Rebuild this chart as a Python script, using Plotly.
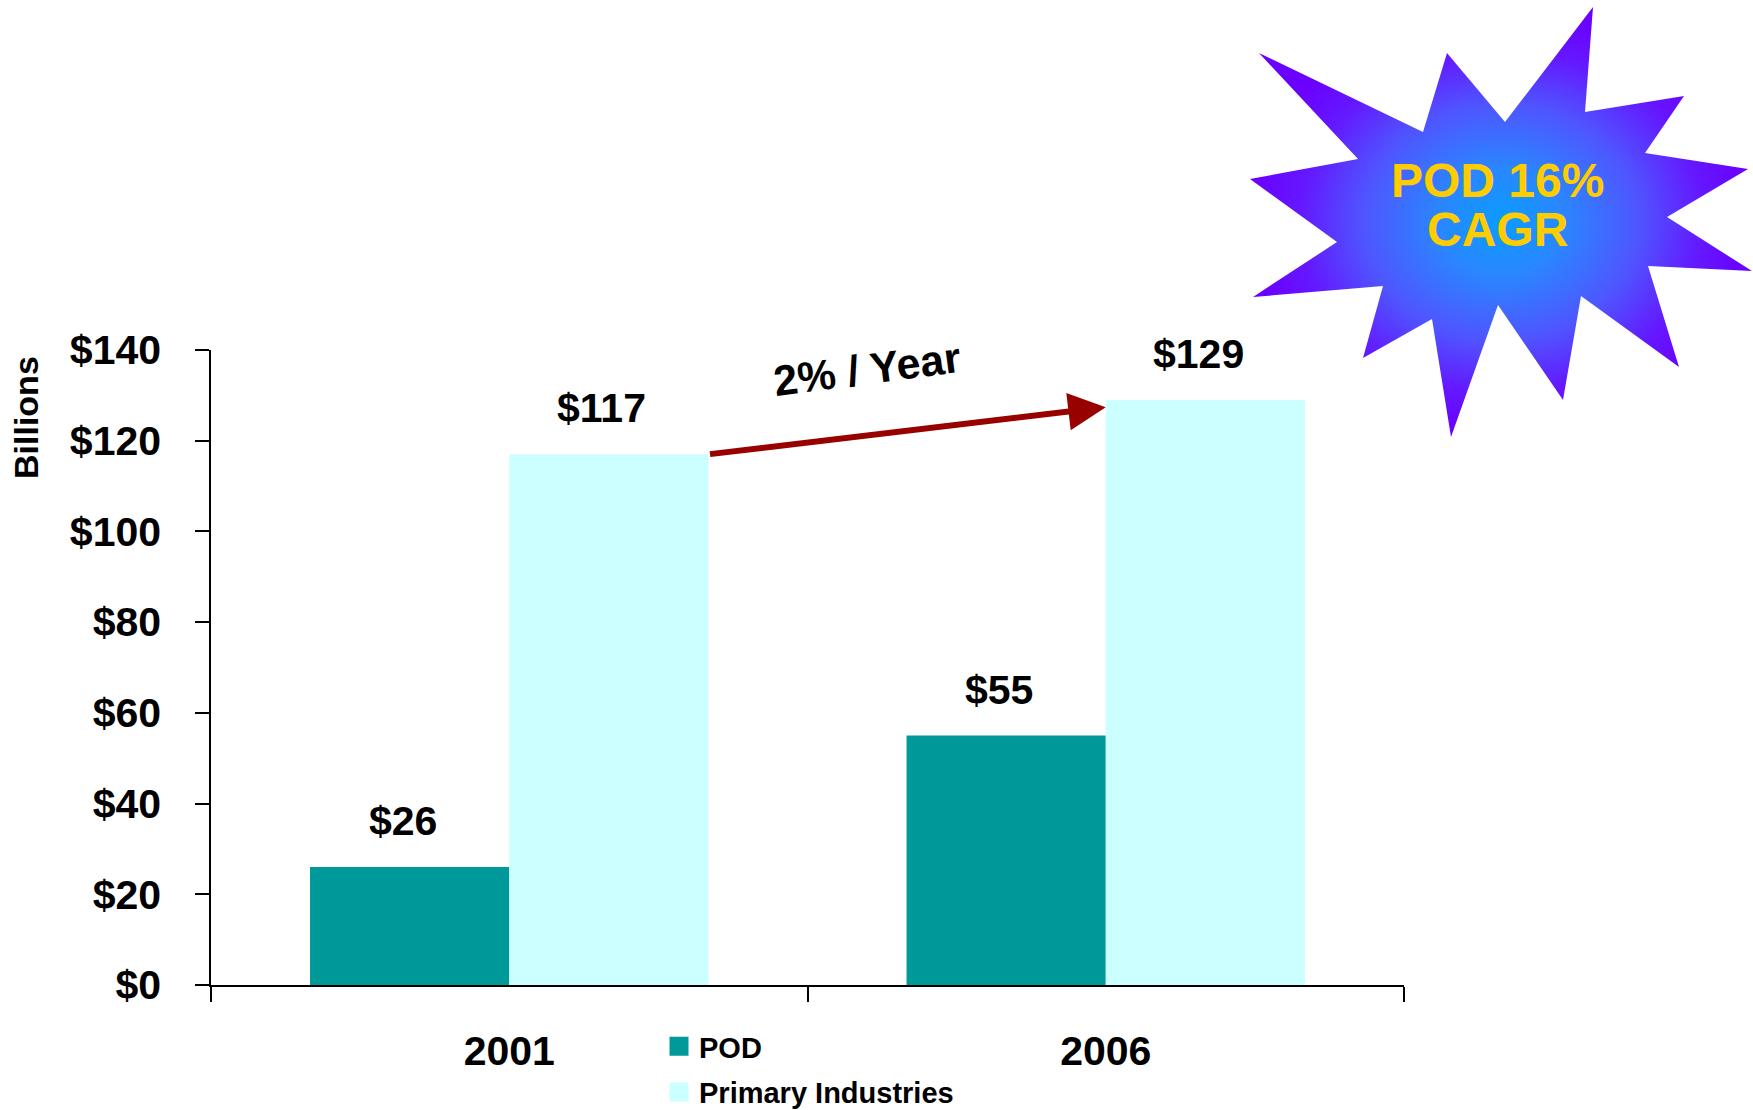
import plotly.graph_objects as go

# ---- data -------------------------------------------------------------
years = ["2001", "2006"]
pod_values = [26, 55]
primary_values = [117, 129]
series_names = ["POD", "Primary Industries"]
y_ticks = [0, 20, 40, 60, 80, 100, 120, 140]
y_tick_labels = ["$" + str(t) for t in y_ticks]
growth_label = "2% / Year"
burst_lines = ["POD 16%", "CAGR"]

# ---- styling ----------------------------------------------------------
W, H = 1753, 1110
FONT = "Liberation Sans, Arial, sans-serif"
POD_COLOR = "#009999"
PRIMARY_COLOR = "#CCFFFF"
ARROW_COLOR = "#990000"
GOLD = "#FFCC00"
BARGAP = 0.332

# plot area in pixels (left, right, top, bottom)
PX_L, PX_R, PX_T, PX_B = 211, 1404, 350, 985

fig = go.Figure()

fig.add_trace(go.Bar(x=years, y=pod_values, name=series_names[0],
                     marker=dict(color=POD_COLOR, line=dict(width=0)),
                     showlegend=False))
fig.add_trace(go.Bar(x=years, y=primary_values, name=series_names[1],
                     marker=dict(color=PRIMARY_COLOR, line=dict(width=0)),
                     showlegend=False))

# legend entries with larger square swatches
for name, col in zip(series_names, [POD_COLOR, PRIMARY_COLOR]):
    fig.add_trace(go.Scatter(x=[None], y=[None], mode="markers", name=name,
                             xaxis="x2", yaxis="y2", legendgroup=name,
                             marker=dict(symbol="square", size=16, color=col,
                                         line=dict(color=col, width=3))))

# starburst badge, drawn in a full-figure pixel frame
star_x = [1593, 1585, 1684, 1645, 1748, 1667, 1752, 1648, 1679, 1581, 1563, 1498,
          1451, 1432, 1363, 1383, 1253, 1337, 1250, 1358, 1259, 1423, 1447, 1505, 1593]
star_y = [7, 112, 96, 153, 169, 217, 271, 266, 367, 296, 400, 305,
          437, 319, 358, 286, 297, 242, 179, 159, 53, 132, 53, 122, 7]
fig.add_trace(go.Scatter(
    x=star_x, y=star_y, mode="lines", fill="toself", xaxis="x2", yaxis="y2",
    line=dict(width=0, color="#6600FF"), showlegend=False, hoverinfo="skip",
    fillgradient=dict(type="radial",
                      colorscale=[[0.0, "#0A9CFF"], [0.25, "#2A86FF"],
                                  [0.55, "#4F55FF"], [0.8, "#6418FF"],
                                  [1.0, "#6A00FF"]]),
))

annotations = []

# value labels above the bars
bar_w = (1 - BARGAP) / 2
for i, (p, q) in enumerate(zip(pod_values, primary_values)):
    for xpos, v in ((i - bar_w / 2, p), (i + bar_w / 2, q)):
        annotations.append(dict(x=xpos, y=v, xref="x", yref="y", text=f"${v}",
                                showarrow=False, yanchor="bottom",
                                xshift=-7, yshift=21,
                                font=dict(family=FONT, size=41, color="black",
                                          weight="bold")))

# growth arrow between the Primary Industries bars
annotations.append(dict(x=1.0, y=127.4, xref="x", yref="y",
                        ax=bar_w, ay=117, axref="x", ayref="y", text="",
                        showarrow=True, arrowhead=2, arrowsize=1.25,
                        arrowwidth=6, arrowcolor=ARROW_COLOR, standoff=0,
                        startstandoff=0))
annotations.append(dict(x=0.6, y=135.8, xref="x", yref="y", text=growth_label,
                        showarrow=False, textangle=-7.5,
                        font=dict(family=FONT, size=43, color="black",
                                  weight="bold")))

# y-axis unit label
annotations.append(dict(x=26 / W, y=1 - 418 / H, xref="paper", yref="paper",
                        xanchor="center", yanchor="middle",
                        text="Billions", textangle=-90, showarrow=False,
                        font=dict(family=FONT, size=34, color="black",
                                  weight="bold")))

# badge text
for txt, ypix in zip(burst_lines, [180, 229]):
    annotations.append(dict(x=1497, y=ypix, xref="x2", yref="y2", text=txt,
                            showarrow=False,
                            font=dict(family=FONT, size=48, color=GOLD,
                                      weight="bold")))

fig.update_layout(
    width=W, height=H,
    margin=dict(l=0, r=0, t=0, b=0, pad=0, autoexpand=False),
    paper_bgcolor="white", plot_bgcolor="rgba(0,0,0,0)",
    barmode="group", bargap=BARGAP, bargroupgap=0,
    font=dict(family=FONT, color="black"),
    xaxis=dict(domain=[PX_L / W, PX_R / W], type="category",
               showline=True, linecolor="black", linewidth=2,
               ticks="outside", tickson="boundaries", ticklen=15,
               tickcolor="black", tickwidth=1.5, showgrid=False,
               ticklabelstandoff=29, automargin=False,
               tickfont=dict(family=FONT, size=41, color="black", weight="bold"),
               anchor="y", fixedrange=True),
    yaxis=dict(domain=[1 - PX_B / H, 1 - PX_T / H], range=[0, 140],
               tickvals=y_ticks, ticktext=y_tick_labels,
               showline=True, linecolor="black", linewidth=1.5,
               ticks="outside", ticklen=14, tickcolor="black", tickwidth=1.5,
               showgrid=False, zeroline=False, ticklabelstandoff=26,
               automargin=False,
               tickfont=dict(family=FONT, size=41, color="black", weight="bold"),
               anchor="x", fixedrange=True),
    xaxis2=dict(domain=[0, 1], range=[0, W], visible=False, anchor="y2",
                fixedrange=True),
    yaxis2=dict(domain=[0, 1], range=[H, 0], visible=False, anchor="x2",
                fixedrange=True),
    legend=dict(xref="paper", yref="paper", x=659 / W, y=1 - 1021 / H,
                xanchor="left", yanchor="top", bgcolor="rgba(0,0,0,0)",
                traceorder="grouped", tracegroupgap=5,
                font=dict(family=FONT, size=29, color="black", weight="bold"),
                itemclick=False, itemdoubleclick=False),
    annotations=annotations,
    showlegend=True,
)

fig.write_html("out.html")
